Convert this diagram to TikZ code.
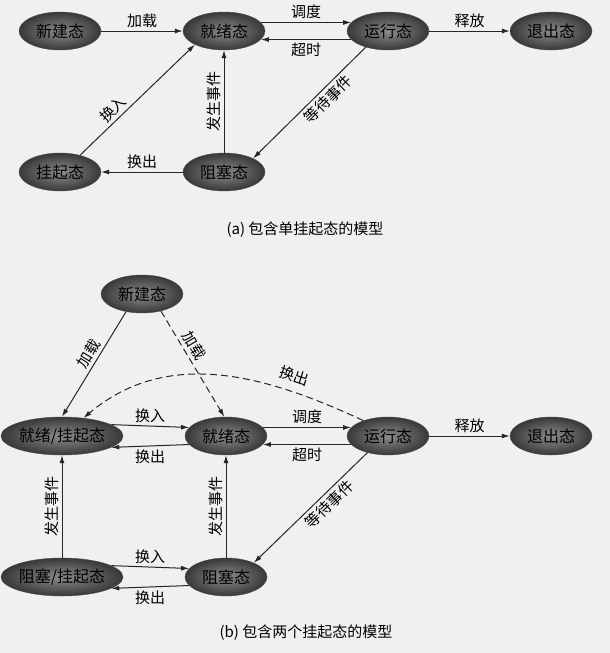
\documentclass[tikz,border=0pt]{standalone}
\usepackage{fontspec}
\newfontfamily\cjk{Noto Sans CJK SC}
\usetikzlibrary{arrows.meta,shapes.geometric}

\begin{document}
\begin{tikzpicture}[
  x=1pt, y=-1pt,
  >={Latex[length=8pt,width=5pt]},
  state/.style={ellipse, draw=black!70, shading=radial, inner color=black!45,
    outer color=black!78, minimum width=82pt, minimum height=38pt, inner sep=0pt,
    font=\cjk\fontsize{16}{18}\selectfont},
  lbl/.style={font=\cjk\fontsize{15}{17}\selectfont, inner sep=3pt},
  trans/.style={->, line width=1pt, draw=black!85},
  dashline/.style={dash pattern=on 7pt off 4pt}
  ]
  \useasboundingbox[fill=black!6] (0,0) rectangle (610,653);

  % Define nodes of model (a)
  \node[state] (new1) at (60,31) {新建态};
  \node[state] (ready1) at (224,31) {就绪态};
  \node[state] (run1) at (388,31) {运行态};
  \node[state] (exit1) at (551,31) {退出态};
  \node[state] (susp1) at (60,172) {挂起态};
  \node[state] (block1) at (224,172) {阻塞态};
  \node[lbl] (capa) at (305,230) {(a)\ 包含单挂起态的模型};

  % Draw transitions of model (a)
  \draw[trans] (new1) -- node[lbl, above] {加载} (ready1);
  \draw[trans] (ready1.13) -- node[lbl, above] {调度} (run1.167);
  \draw[trans] (run1.193) -- node[lbl, below] {超时} (ready1.347);
  \draw[trans] (run1) -- node[lbl, above] {释放} (exit1);
  \draw[trans] (susp1.40) -- node[lbl, above, sloped, pos=0.35] {换入} (ready1.205);
  \draw[trans] (block1) -- node[lbl, above, sloped] {发生事件} (ready1);
  \draw[trans] (run1.216) -- node[lbl, below, sloped, pos=0.4] {等待事件} (block1.25);
  \draw[trans] (block1) -- node[lbl, above] {换出} (susp1);

  % Define nodes of model (b)
  \node[state] (new2) at (142,294) {新建态};
  \node[state] (rsusp) at (62,436) {就绪/挂起态};
  \node[state] (ready2) at (226,436) {就绪态};
  \node[state] (run2) at (388,436) {运行态};
  \node[state] (exit2) at (551,436) {退出态};
  \node[state] (bsusp) at (62,577) {阻塞/挂起态};
  \node[state] (block2) at (226,577) {阻塞态};
  \node[lbl] (capb) at (306,633) {(b)\ 包含两个挂起态的模型};

  % Draw transitions of model (b)
  \draw[trans] (new2.228) -- node[lbl, above, sloped, pos=0.45] {加载} (rsusp.north);
  \draw[trans, dashline] (new2.318) -- node[lbl, above, sloped, pos=0.38] {加载} (ready2.95);
  \draw[trans, dashline] (run2.148) to[out=155, in=40]
    node[lbl, above=5pt, sloped, pos=0.25] {换出} (rsusp.40);
  \draw[trans] (rsusp.13) -- node[lbl, above] {换入} (ready2.167);
  \draw[trans] (ready2.193) -- node[lbl, below] {换出} (rsusp.347);
  \draw[trans] (ready2.13) -- node[lbl, above] {调度} (run2.167);
  \draw[trans] (run2.193) -- node[lbl, below] {超时} (ready2.347);
  \draw[trans] (run2) -- node[lbl, above] {释放} (exit2);
  \draw[trans] (run2.219) -- node[lbl, below, sloped, pos=0.4] {等待事件} (block2.27);
  \draw[trans] (bsusp) -- node[lbl, above, sloped] {发生事件} (rsusp);
  \draw[trans] (block2) -- node[lbl, above, sloped] {发生事件} (ready2);
  \draw[trans] (bsusp.13) -- node[lbl, above] {换入} (block2.167);
  \draw[trans] (block2.193) -- node[lbl, below] {换出} (bsusp.347);
\end{tikzpicture}
\end{document}
